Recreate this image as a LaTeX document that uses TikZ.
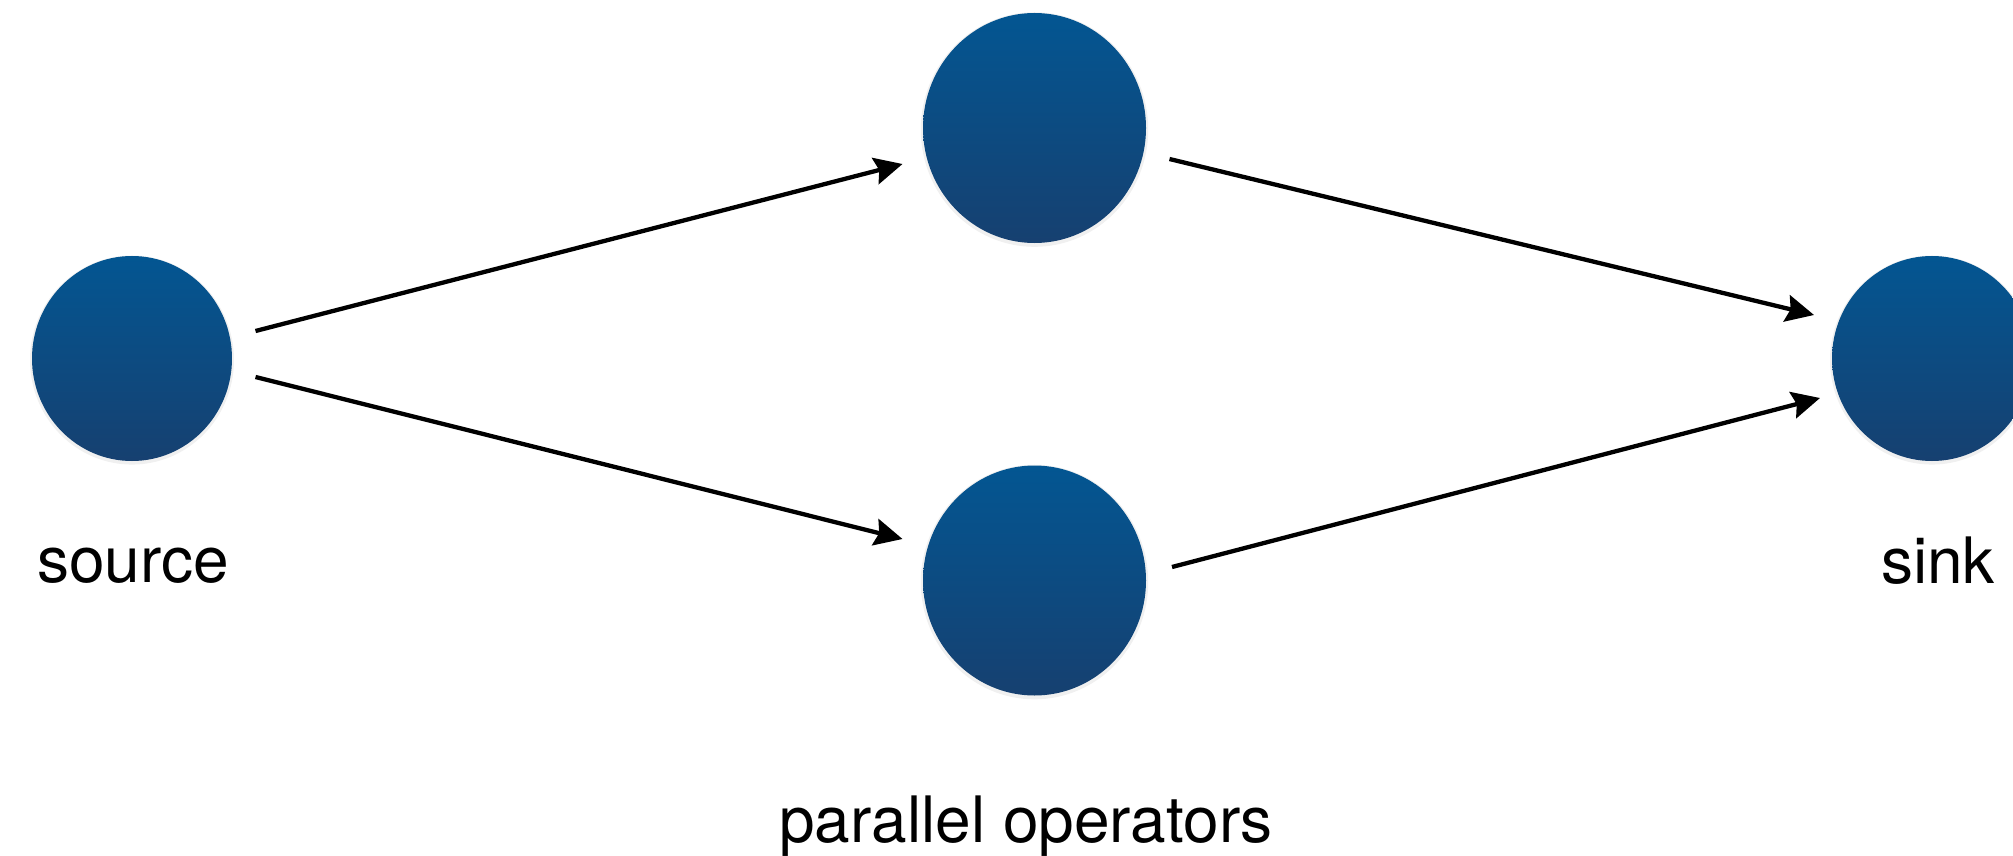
\documentclass[tikz,border=0pt]{standalone}
\usepackage{fontspec}
\setmainfont{TeX Gyre Heros}
\usetikzlibrary{arrows.meta,shapes.geometric,shadows}
\definecolor{blueTop}{RGB}{3,86,146}
\definecolor{blueBot}{RGB}{22,64,112}
\tikzset{
  opnode/.style={ellipse, inner sep=0pt, top color=blueTop, bottom color=blueBot, draw=none,
    drop shadow={opacity=0.12, shadow xshift=0pt, shadow yshift=-1.5pt, shadow scale=1.02}},
  smallop/.style={opnode, minimum width=200pt, minimum height=205pt},
  bigop/.style={opnode, minimum width=223pt, minimum height=230pt},
  arr/.style={line width=4.3pt, -{Stealth[length=28pt,width=27pt,inset=4pt]}},
  lbl/.style={anchor=base, inner sep=0pt, font=\fontsize{64}{72}\selectfont}
}
\begin{document}
\begin{tikzpicture}[x=1pt,y=-1pt]
\useasboundingbox (0,0) rectangle (2013,856);
\clip (0,0) rectangle (2013,856);
\node[smallop] (src) at (132,358.5) {};
\node[bigop] (top) at (1034.5,128) {};
\node[bigop] (bot) at (1034.5,580.5) {};
\node[smallop] (sink) at (1932,358.5) {};
\draw[arr] ([xshift=123.5pt,yshift=27.5pt]src.center) -- ([xshift=-132pt,yshift=-36pt]top.center);
\draw[arr] ([xshift=123.5pt,yshift=-18.5pt]src.center) -- ([xshift=-132pt,yshift=41.5pt]bot.center);
\draw[arr] ([xshift=135pt,yshift=-31pt]top.center) -- ([xshift=-118pt,yshift=43.5pt]sink.center);
\draw[arr] ([xshift=137.5pt,yshift=13.5pt]bot.center) -- ([xshift=-112pt,yshift=-39.5pt]sink.center);
\node[lbl] (srclbl) at (133,582) {source};
\node[lbl] (sinklbl) at (1938,583) {sink};
\node[lbl] (parlbl) at (1026,842) {parallel operators};
\end{tikzpicture}
\end{document}
